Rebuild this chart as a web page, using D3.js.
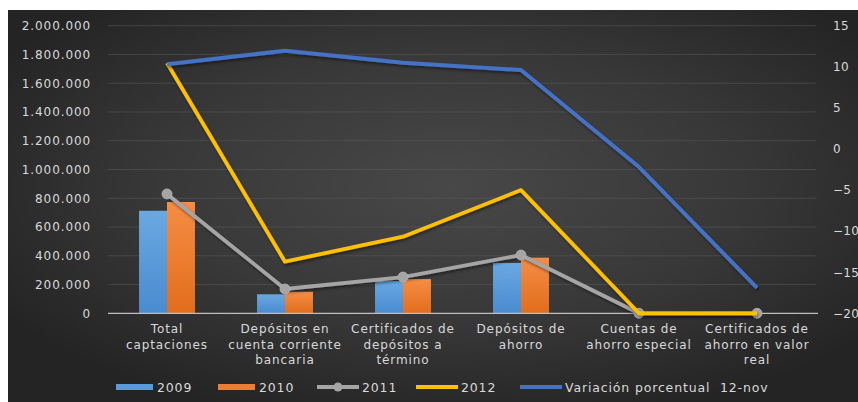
<!DOCTYPE html>
<html>
<head>
<meta charset="utf-8">
<script src="https://cdn.jsdelivr.net/npm/d3@7"></script>
<style>
  html, body { margin: 0; padding: 0; background: #ffffff; }
  svg { display: block; }
  text { font-family: "DejaVu Sans", sans-serif; fill: #d9d9d9; }
</style>
</head>
<body>
<svg id="chart" width="858" height="402"></svg>
<script>
// ---- data ----
const categories = [
  "Total captaciones",
  "Depósitos en cuenta corriente bancaria",
  "Certificados de depósitos a término",
  "Depósitos de ahorro",
  "Cuentas de ahorro especial",
  "Certificados de ahorro en valor real"
];
const categoryLabelLines = [
  ["Total", "captaciones"],
  ["Depósitos en", "cuenta corriente", "bancaria"],
  ["Certificados de", "depósitos a", "término"],
  ["Depósitos de", "ahorro"],
  ["Cuentas de", "ahorro especial"],
  ["Certificados de", "ahorro en valor", "real"]
];
const values2009 = [713000, 132000, 225000, 350000, 0, 0];
const values2010 = [774000, 150000, 238000, 387000, 0, 0];
const values2011 = [830000, 169000, 252000, 405000, 0, 0];
const values2012 = [1741000, 359000, 533000, 857000, 0, 0];
const variacion = [10.3, 11.95, 10.5, 9.6, -2.2, -16.9];
const leftTicks = [0, 200000, 400000, 600000, 800000, 1000000, 1200000, 1400000, 1600000, 1800000, 2000000];
const rightTicks = [-20, -15, -10, -5, 0, 5, 10, 15];
const barSeriesNames = ["2009", "2010"];
const legendLabels = ["2009", "2010", "2011", "2012", "Variación porcentual  12-nov"];

// ---- setup ----
const svg = d3.select("#chart");
const W = 858, H = 402;
const plot = { left: 108, right: 816, top: 25.7, bottom: 313.3 };

const defs = svg.append("defs");
const bg = defs.append("radialGradient").attr("id", "bgGrad")
  .attr("cx", "52%").attr("cy", "45%").attr("r", "62%");
bg.append("stop").attr("offset", "0%").attr("stop-color", "#484848");
bg.append("stop").attr("offset", "55%").attr("stop-color", "#383838");
bg.append("stop").attr("offset", "100%").attr("stop-color", "#242424");

const gBlue = defs.append("linearGradient").attr("id", "gBlue").attr("x1", 0).attr("x2", 0).attr("y1", 0).attr("y2", 1);
gBlue.append("stop").attr("offset", "0%").attr("stop-color", "#6aa8e2");
gBlue.append("stop").attr("offset", "100%").attr("stop-color", "#4a8bd0");
const gOrange = defs.append("linearGradient").attr("id", "gOrange").attr("x1", 0).attr("x2", 0).attr("y1", 0).attr("y2", 1);
gOrange.append("stop").attr("offset", "0%").attr("stop-color", "#f58d45");
gOrange.append("stop").attr("offset", "100%").attr("stop-color", "#e26d1c");

const shadow = defs.append("filter").attr("id", "shadow")
  .attr("x", "-10%").attr("y", "-10%").attr("width", "120%").attr("height", "130%");
shadow.append("feDropShadow").attr("dx", 1).attr("dy", 2).attr("stdDeviation", 1.5)
  .attr("flood-color", "#000").attr("flood-opacity", 0.45);

svg.append("rect").attr("x", 8).attr("y", 10).attr("width", W - 8).attr("height", H - 10)
  .attr("fill", "url(#bgGrad)");

// ---- scales ----
const x = d3.scaleBand().domain(categories).range([plot.left, plot.right]).padding(0);
const bw = x.bandwidth();
const xSub = d3.scaleBand().domain(barSeriesNames).range([bw * 0.263, bw * 0.737]).padding(0);
const yL = d3.scaleLinear().domain([0, 2000000]).range([plot.bottom, plot.top]);
const yR = d3.scaleLinear().domain([-20, 15]).range([plot.bottom, plot.top]);
const cx = c => x(c) + bw / 2;

const locale = d3.formatLocale({ decimal: ",", thousands: ".", grouping: [3], currency: ["", ""] });
const fmt = locale.format(",d");

// ---- gridlines ----
svg.append("g")
  .selectAll("line").data(leftTicks.filter(t => t > 0)).join("line")
  .attr("x1", plot.left).attr("x2", plot.right)
  .attr("y1", d => yL(d)).attr("y2", d => yL(d))
  .attr("stroke", "#595959").attr("stroke-opacity", 0.7).attr("stroke-width", 0.8);

// ---- left axis ----
const axL = svg.append("g").attr("transform", `translate(${plot.left},0)`)
  .call(d3.axisLeft(yL).tickValues(leftTicks).tickFormat(fmt).tickSize(0).tickPadding(17));
axL.select(".domain").remove();
axL.selectAll("text").attr("font-size", 12).attr("letter-spacing", 0.9)
  .style("font-family", "'DejaVu Sans', sans-serif").attr("fill", "#d9d9d9");

// ---- right axis ----
const axR = svg.append("g").attr("transform", `translate(${plot.right},0)`)
  .call(d3.axisRight(yR).tickValues(rightTicks).tickFormat(d3.format("d")).tickSize(0).tickPadding(17));
axR.select(".domain").remove();
axR.selectAll("text").attr("font-size", 12).attr("letter-spacing", 0.3)
  .style("font-family", "'DejaVu Sans', sans-serif").attr("fill", "#d9d9d9");

// ---- bars ----
const barData = [
  { name: "2009", values: values2009, fill: "url(#gBlue)" },
  { name: "2010", values: values2010, fill: "url(#gOrange)" }
];
barData.forEach(s => {
  svg.append("g").selectAll("rect").data(categories).join("rect")
    .attr("x", (c) => x(c) + xSub(s.name))
    .attr("width", xSub.bandwidth())
    .attr("y", (c, i) => yL(s.values[i]))
    .attr("height", (c, i) => yL(0) - yL(s.values[i]))
    .attr("fill", s.fill);
});

// ---- x axis ----
const axB = svg.append("g").attr("transform", `translate(0,${plot.bottom})`)
  .call(d3.axisBottom(x).tickSize(0).tickFormat(""));
axB.select(".domain").attr("stroke", "#bfbfbf").attr("stroke-width", 1.2)
  .attr("d", `M${plot.left},0H${plot.right + 2}`);
axB.selectAll(".tick text").remove();
axB.selectAll(".tick").each(function(c) {
  const i = categories.indexOf(c);
  const t = d3.select(this).append("text")
    .attr("text-anchor", "middle").attr("font-size", 12).attr("letter-spacing", 0.9)
    .style("font-family", "'DejaVu Sans', sans-serif").attr("fill", "#d9d9d9");
  categoryLabelLines[i].forEach((ln, k) => {
    t.append("tspan").attr("x", 0).attr("y", 20 + k * 15.5).text(ln);
  });
});

// ---- lines ----
const line2011 = d3.line().x((d, i) => cx(categories[i])).y(d => yL(d));
svg.append("path").datum(values2011).attr("d", line2011)
  .attr("fill", "none").attr("stroke", "#a5a5a5").attr("stroke-width", 3.8)
  .attr("stroke-linejoin", "round").attr("filter", "url(#shadow)");
svg.append("g").selectAll("circle").data(values2011).join("circle")
  .attr("cx", (d, i) => cx(categories[i])).attr("cy", d => yL(d)).attr("r", 5)
  .attr("fill", "#a5a5a5").attr("stroke", "#b5b5b5").attr("stroke-width", 0.8);

svg.append("path").datum(values2012).attr("d", line2011)
  .attr("fill", "none").attr("stroke", "#ffc000").attr("stroke-width", 3.8)
  .attr("stroke-linejoin", "round").attr("filter", "url(#shadow)");

const lineVar = d3.line().x((d, i) => cx(categories[i])).y(d => yR(d));
svg.append("path").datum(variacion).attr("d", lineVar)
  .attr("fill", "none").attr("stroke", "#4472c4").attr("stroke-width", 4)
  .attr("stroke-linejoin", "round").attr("filter", "url(#shadow)");

// ---- legend ----
const legend = svg.append("g");
const legY = 387;
const legendItems = [
  { label: legendLabels[0], type: "bar", color: "#5b9bd5", x0: 116 },
  { label: legendLabels[1], type: "bar", color: "#ed7d31", x0: 218 },
  { label: legendLabels[2], type: "marker", color: "#a5a5a5", x0: 317 },
  { label: legendLabels[3], type: "line", color: "#ffc000", x0: 416 },
  { label: legendLabels[4], type: "line", color: "#4472c4", x0: 520 }
];
legendItems.forEach(it => {
  const g = legend.append("g");
  if (it.type === "bar") {
    g.append("rect").attr("x", it.x0).attr("y", legY - 3).attr("width", 37).attr("height", 6).attr("fill", it.color);
  } else {
    g.append("line").attr("x1", it.x0).attr("x2", it.x0 + 42).attr("y1", legY).attr("y2", legY)
      .attr("stroke", it.color).attr("stroke-width", 3.8);
    if (it.type === "marker") {
      g.append("circle").attr("cx", it.x0 + 21).attr("cy", legY).attr("r", 4.5).attr("fill", it.color);
    }
  }
  g.append("text").attr("x", it.x0 + (it.type === "bar" ? 41 : 45)).attr("y", legY + 5)
    .attr("font-size", 12.5).attr("letter-spacing", 0.85).style("white-space", "pre").text(it.label);
});
</script>
</body>
</html>
